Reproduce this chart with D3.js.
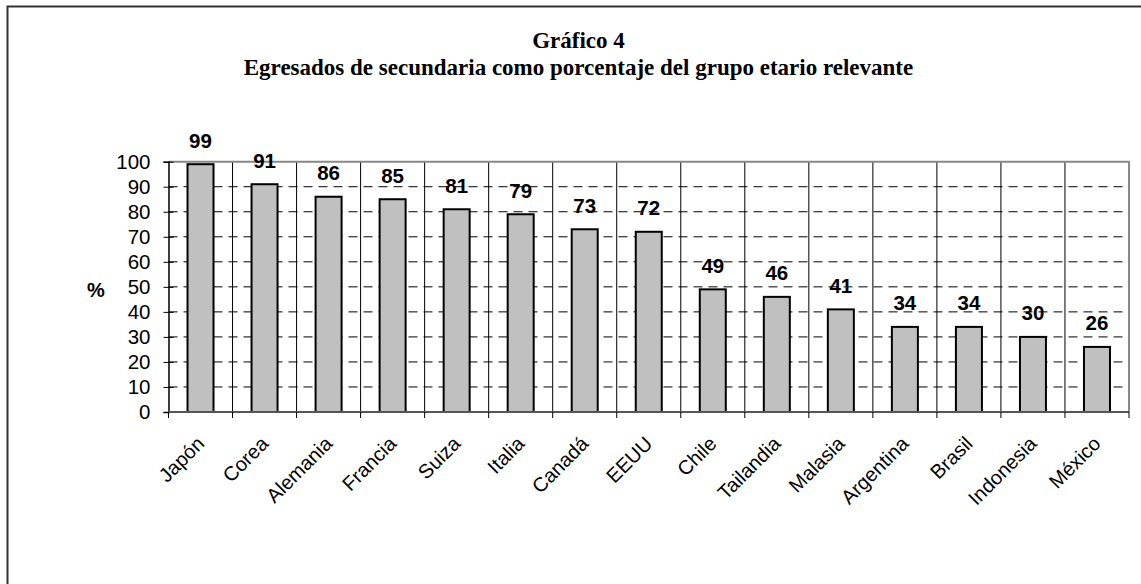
<!DOCTYPE html>
<html><head><meta charset="utf-8">
<script src="https://cdn.jsdelivr.net/npm/d3@7"></script>
<style>html,body{margin:0;padding:0;background:#fff;overflow:hidden}</style>
</head><body>
<svg id="c" width="1141" height="584"></svg>
<script>
const categories = ["Japón","Corea","Alemania","Francia","Suiza","Italia","Canadá","EEUU","Chile","Tailandia","Malasia","Argentina","Brasil","Indonesia","México"];
const values = [99,91,86,85,81,79,73,72,49,46,41,34,34,30,26];
const yTicks = [0,10,20,30,40,50,60,70,80,90,100];
const titleLines = ["Gráfico 4","Egresados de secundaria como porcentaje del grupo etario relevante"];
const yLabel = "%";

const svg = d3.select("#c");
const L = 168.5, R = 1129, T = 161.7, B = 412;
const x = d3.scaleBand().domain(categories).range([L, R]).paddingInner(0).paddingOuter(0);
const y = d3.scaleLinear().domain([0, 100]).range([B, T]);
const sans = "Arial, 'Liberation Sans', sans-serif";

// outer border
svg.append("rect").attr("x",7.5).attr("y",6.5).attr("width",1300).attr("height",800)
  .attr("fill","none").attr("stroke","#333").attr("stroke-width",2);

// title
svg.selectAll("text.title").data(titleLines).join("text")
  .attr("x", 578.5).attr("y", (d,i)=> 47.5 + i*27.5)
  .attr("text-anchor","middle")
  .attr("font-family","'Liberation Serif','Times New Roman',serif")
  .attr("font-weight","bold").attr("font-size", 23)
  .text(d=>d);

// horizontal dashed grid
svg.append("g").selectAll("line").data(yTicks.filter(t=>t>0 && t<100)).join("line")
  .attr("x1",L).attr("x2",R).attr("y1",d=>y(d)).attr("y2",d=>y(d))
  .attr("stroke","#000").attr("stroke-width",1).attr("stroke-dasharray","9,6");

// vertical grid at category boundaries
const bounds = categories.slice(1).map(c=>x(c));
svg.append("g").selectAll("line").data(bounds).join("line")
  .attr("x1",d=>d).attr("x2",d=>d).attr("y1",T).attr("y2",B)
  .attr("stroke","#000").attr("stroke-width",1);

// plot border top & right (gray)
svg.append("path").attr("d",`M${L},${T}H${R}V${B}`).attr("fill","none")
  .attr("stroke","#888").attr("stroke-width",2);

// bars
svg.append("g").selectAll("rect").data(values).join("rect")
  .attr("x",(d,i)=>x(categories[i]) + x.bandwidth()/2 - 13)
  .attr("width",26)
  .attr("y",d=>y(d)).attr("height",d=>B - y(d))
  .attr("fill","#c0c0c0").attr("stroke","#000").attr("stroke-width",2);

// value labels
svg.append("g").selectAll("text").data(values).join("text")
  .attr("x",(d,i)=>x(categories[i]) + x.bandwidth()/2)
  .attr("y",d=>y(d) - 16.5)
  .attr("text-anchor","middle").attr("font-family",sans).attr("font-weight","bold")
  .attr("font-size",20.5).text(d=>d);

// y axis
const yAxis = svg.append("g").attr("transform",`translate(${L},0)`)
  .call(d3.axisLeft(y).tickValues(yTicks).tickSize(5).tickPadding(13));
yAxis.select(".domain").attr("stroke","#000").attr("stroke-width",1.5);
yAxis.selectAll(".tick line").attr("x2",-5).attr("x1",5).attr("stroke","#000");
yAxis.selectAll(".tick text").attr("font-family",sans).attr("font-size",20.5).attr("fill","#000");

// x axis
svg.append("line").attr("x1",L).attr("x2",R).attr("y1",B).attr("y2",B)
  .attr("stroke","#555").attr("stroke-width",2);
svg.append("g").selectAll("line").data([L, ...bounds, R]).join("line")
  .attr("x1",d=>d).attr("x2",d=>d).attr("y1",B).attr("y2",B+6)
  .attr("stroke","#000").attr("stroke-width",1);

// x labels
svg.append("g").selectAll("text").data(categories).join("text")
  .attr("transform",d=>`translate(${x(d)+x.bandwidth()/2+5},${B+33}) rotate(-45)`)
  .attr("text-anchor","end").attr("font-family",sans).attr("font-size",20)
  .text(d=>d);

// y label
svg.append("text").attr("x",96).attr("y",297).attr("text-anchor","middle")
  .attr("font-family",sans).attr("font-weight","bold").attr("font-size",20).text(yLabel);
</script>
</body></html>
